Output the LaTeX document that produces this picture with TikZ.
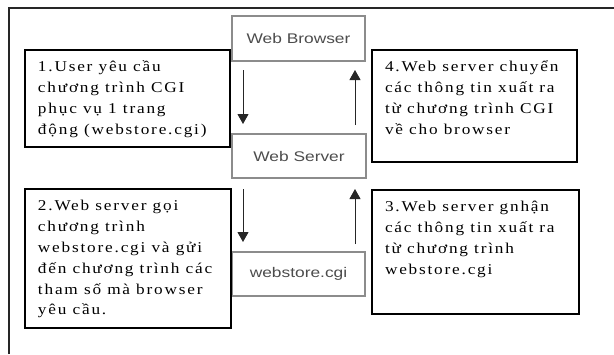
\documentclass[tikz,border=0pt]{standalone}
\usepackage{fontspec}
\setmainfont{Liberation Serif}[FakeStretch=1.15,LetterSpace=12]
\newfontfamily\websans{Liberation Sans}[FakeStretch=1.24]
\usetikzlibrary{arrows.meta}
\tikzset{
  webbox/.style={draw=black!45, line width=1.2pt, inner sep=0pt, outer sep=0pt,
    anchor=north west, font=\websans\fontsize{14}{16}\selectfont, text=black!70},
  stepbox/.style={draw=black, line width=1.3pt, inner sep=0pt, outer sep=0pt, anchor=north west},
  arr/.style={line width=1pt, draw=black!85, -{Triangle[length=10pt,width=11pt]}},
  frameline/.style={line width=1.5pt, draw=black!85},
}
\newcommand{\boxtxt}[3]{\parbox[t][#2][t]{#1}{\fontsize{15}{20.8}\selectfont\raggedright\leftskip=13pt\vspace*{7.4pt}\strut #3}}
\begin{document}
\begin{tikzpicture}[x=1pt,y=-1pt]
\useasboundingbox (0,0) rectangle (614,354);
\draw[frameline] (9,354) -- (9,8) -- (614,8);
% web boxes
\node[webbox, minimum width=133pt, minimum height=45pt] (browser) at (232,16) {Web Browser};
\node[webbox, minimum width=134pt, minimum height=44pt] (server) at (232,134) {Web Server};
\node[webbox, minimum width=133pt, minimum height=44pt] (cgi) at (232,252) {webstore.cgi};
% text boxes
\node[stepbox] (s1) at (25,50) {\boxtxt{205pt}{97pt}{1.User yêu cầu\\ chương trình CGI\\ phục vụ 1 trang\\ động (webstore.cgi)}};
\node[stepbox] (s4) at (372,50) {\boxtxt{205pt}{112pt}{4.Web server chuyển\\ các thông tin xuất ra\\ từ chương trình CGI\\ về cho browser}};
\node[stepbox] (s2) at (25,189) {\boxtxt{206pt}{139pt}{2.Web server gọi\\ chương trình\\ webstore.cgi và gửi\\ đến chương trình các\\ tham số mà browser\\ yêu cầu.}};
\node[stepbox] (s3) at (372,190) {\boxtxt{207pt}{124pt}{3.Web server gnhận\\ các thông tin xuất ra\\ từ chương trình\\ webstore.cgi}};
% arrows
\draw[arr] ([xshift=11pt,yshift=-9pt]browser.south west) -- ([xshift=11pt,yshift=10pt]server.north west);
\draw[arr] ([xshift=-11pt,yshift=9pt]server.north east) -- ([xshift=-10pt,yshift=-9pt]browser.south east);
\draw[arr] ([xshift=11pt,yshift=-11pt]server.south west) -- ([xshift=11pt,yshift=10pt]cgi.north west);
\draw[arr] ([xshift=-10pt,yshift=8pt]cgi.north east) -- ([xshift=-11pt,yshift=-11pt]server.south east);
\end{tikzpicture}
\end{document}
